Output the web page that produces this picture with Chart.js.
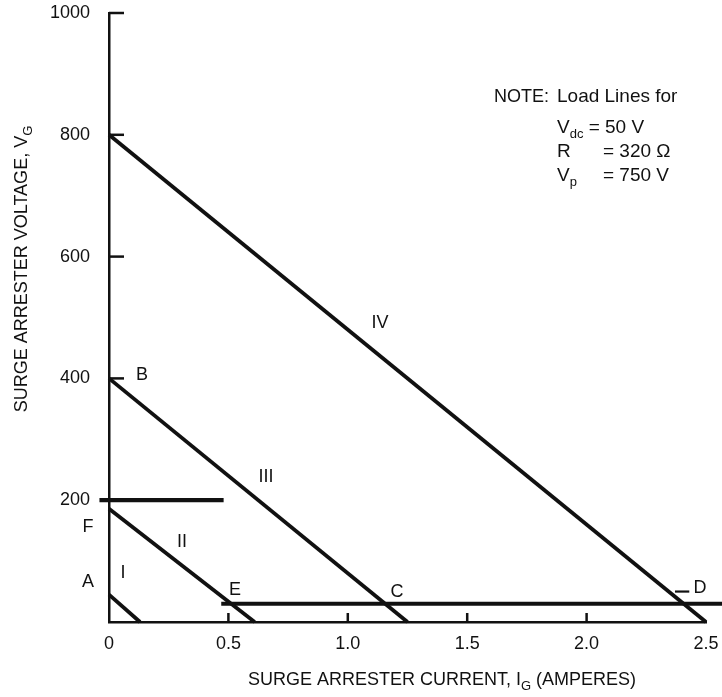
<!DOCTYPE html>
<html>
<head>
<meta charset="utf-8">
<script src="https://cdn.jsdelivr.net/npm/chart.js@4.4.1/dist/chart.umd.min.js"></script>
<style>
  html, body { margin: 0; padding: 0; background: #fff; }
  canvas { display: block; }
</style>
</head>
<body>
<canvas id="chart" width="722" height="697"></canvas>
<script>
// surge arrester current (A) and voltage (V)
const currentTicks = [0, 0.5, 1.0, 1.5, 2.0, 2.5];
const voltageTicks = [200, 400, 600, 800, 1000];

// load lines: voltage at I = 0, current at V = 0
const lineNames  = ["I", "II", "III", "IV"];
const lineStartV = [45, 186, 400, 800];
const lineEndI   = [0.13, 0.61, 1.25, 2.5];

// horizontal segments
const hold200I = [-0.04, 0.48];
const hold200V = [200, 200];
const holdEDI  = [0.47, 2.6];
const holdEDV  = [30, 30];
const markDI   = [2.37, 2.43];
const markDV   = [50, 50];

// point letters
const letterText = ["A", "F", "B", "E", "C", "D"];
const letterI    = [-0.088, -0.088, 0.138, 0.528, 1.206, 2.475];
const letterV    = [66, 156, 406, 53, 49, 56];

// roman numerals beside the load lines
const numeralI = [0.059, 0.306, 0.657, 1.135];
const numeralV = [80, 131, 238, 491];

const FONT = '"Liberation Sans", Arial, Helvetica, sans-serif';
const INK = "#111";

const toPoints = (xs, ys) => xs.map((x, i) => ({ x, y: ys[i] }));

const segment = (xs, ys, width) => ({
    data: toPoints(xs, ys),
    showLine: true,
    borderColor: INK,
    borderWidth: width,
    pointRadius: 0,
    clip: false
});

const datasets = lineNames.map((name, i) =>
    segment([0, lineEndI[i]], [lineStartV[i], 0], 3.8));
datasets.push(segment(hold200I, hold200V, 4.2));
datasets.push(segment(holdEDI, holdEDV, 3.8));
datasets.push(segment(markDI, markDV, 2.2));

// text runs with optional subscripts, starting at x
function runs(ctx, parts, x, y, size)
{
    const big = size + "px " + FONT;
    const small = Math.round(size * 0.7) + "px " + FONT;
    let cx = x;
    ctx.textAlign = "left";
    ctx.textBaseline = "middle";
    parts.forEach(p => {
        ctx.font = p.sub ? small : big;
        ctx.fillText(p.t, cx, p.sub ? y + 6 : y);
        cx += ctx.measureText(p.t).width;
    });
    return cx - x;
}

function centredRuns(ctx, parts, x, y, size)
{
    let total = 0;
    parts.forEach(p => {
        ctx.font = (p.sub ? Math.round(size * 0.7) : size) + "px " + FONT;
        total += ctx.measureText(p.t).width;
    });
    runs(ctx, parts, x - total / 2, y, size);
}

const extras = {
    id: "extras",
    afterDraw(chart)
    {
        const ctx = chart.ctx;
        const xs = chart.scales.x;
        const ys = chart.scales.y;
        const x0 = xs.getPixelForValue(0);
        const y0 = ys.getPixelForValue(0);

        ctx.save();
        ctx.strokeStyle = INK;
        ctx.fillStyle = INK;
        ctx.lineWidth = 2.5;

        // inward tick marks
        voltageTicks.forEach(v => {
            const py = ys.getPixelForValue(v);
            ctx.beginPath();
            ctx.moveTo(x0, py);
            ctx.lineTo(x0 + 15, py);
            ctx.stroke();
        });
        currentTicks.slice(1, -1).forEach(c => {
            const px = xs.getPixelForValue(c);
            ctx.beginPath();
            ctx.moveTo(px, y0);
            ctx.lineTo(px, y0 - 9);
            ctx.stroke();
        });

        ctx.font = "18px " + FONT;
        ctx.textAlign = "center";
        ctx.textBaseline = "middle";
        letterText.forEach((t, i) => {
            ctx.fillText(t, xs.getPixelForValue(letterI[i]), ys.getPixelForValue(letterV[i]));
        });
        lineNames.forEach((t, i) => {
            ctx.fillText(t, xs.getPixelForValue(numeralI[i]), ys.getPixelForValue(numeralV[i]));
        });

        // axis titles
        centredRuns(ctx, [
            { t: "SURGE ARRESTER CURRENT, I" },
            { t: "G", sub: true },
            { t: " (AMPERES)" }
        ], 442, 680, 18);

        ctx.save();
        ctx.translate(22, 269);
        ctx.rotate(-Math.PI / 2);
        centredRuns(ctx, [
            { t: "SURGE ARRESTER VOLTAGE, V" },
            { t: "G", sub: true }
        ], 0, 0, 18);
        ctx.restore();

        // note block
        runs(ctx, [{ t: "NOTE:" }], 494, 97, 18);
        runs(ctx, [{ t: "Load Lines for" }], 557, 97, 19);
        runs(ctx, [{ t: "V" }, { t: "dc", sub: true }, { t: " = 50 V" }], 557, 128, 19);
        runs(ctx, [{ t: "R" }], 557, 152, 19);
        runs(ctx, [{ t: "= 320 \u03A9" }], 603, 152, 19);
        runs(ctx, [{ t: "V" }, { t: "p", sub: true }], 557, 176, 19);
        runs(ctx, [{ t: "= 750 V" }], 603, 176, 19);

        ctx.restore();
    }
};

new Chart(document.getElementById("chart"), {
    type: "scatter",
    data: { datasets },
    options: {
        responsive: false,
        animation: false,
        events: [],
        layout: { padding: { top: 13, right: 16, left: 0, bottom: 0 } },
        plugins: {
            legend: { display: false },
            tooltip: { enabled: false }
        },
        scales: {
            x: {
                type: "linear",
                min: 0,
                max: 2.5,
                afterBuildTicks: s => { s.ticks = currentTicks.map(v => ({ value: v })); },
                afterFit: s => {
                    s.height = 75;
                    s.paddingLeft = 0;
                    s.paddingRight = 0;
                },
                grid: { display: false },
                border: { display: true, color: INK, width: 2.5 },
                ticks: {
                    color: INK,
                    padding: 3,
                    maxRotation: 0,
                    font: { family: FONT, size: 18 },
                    callback: v => v === 0 ? "0" : v.toFixed(1)
                }
            },
            y: {
                type: "linear",
                min: 0,
                max: 1000,
                afterBuildTicks: s => { s.ticks = voltageTicks.map(v => ({ value: v })); },
                afterFit: s => {
                    s.width = 109;
                    s.paddingTop = 0;
                    s.paddingBottom = 0;
                },
                grid: { display: false },
                border: { display: true, color: INK, width: 2.5 },
                ticks: {
                    color: INK,
                    padding: 11,
                    font: { family: FONT, size: 18 },
                    callback: v => String(v)
                }
            }
        }
    },
    plugins: [extras]
});
</script>
</body>
</html>
